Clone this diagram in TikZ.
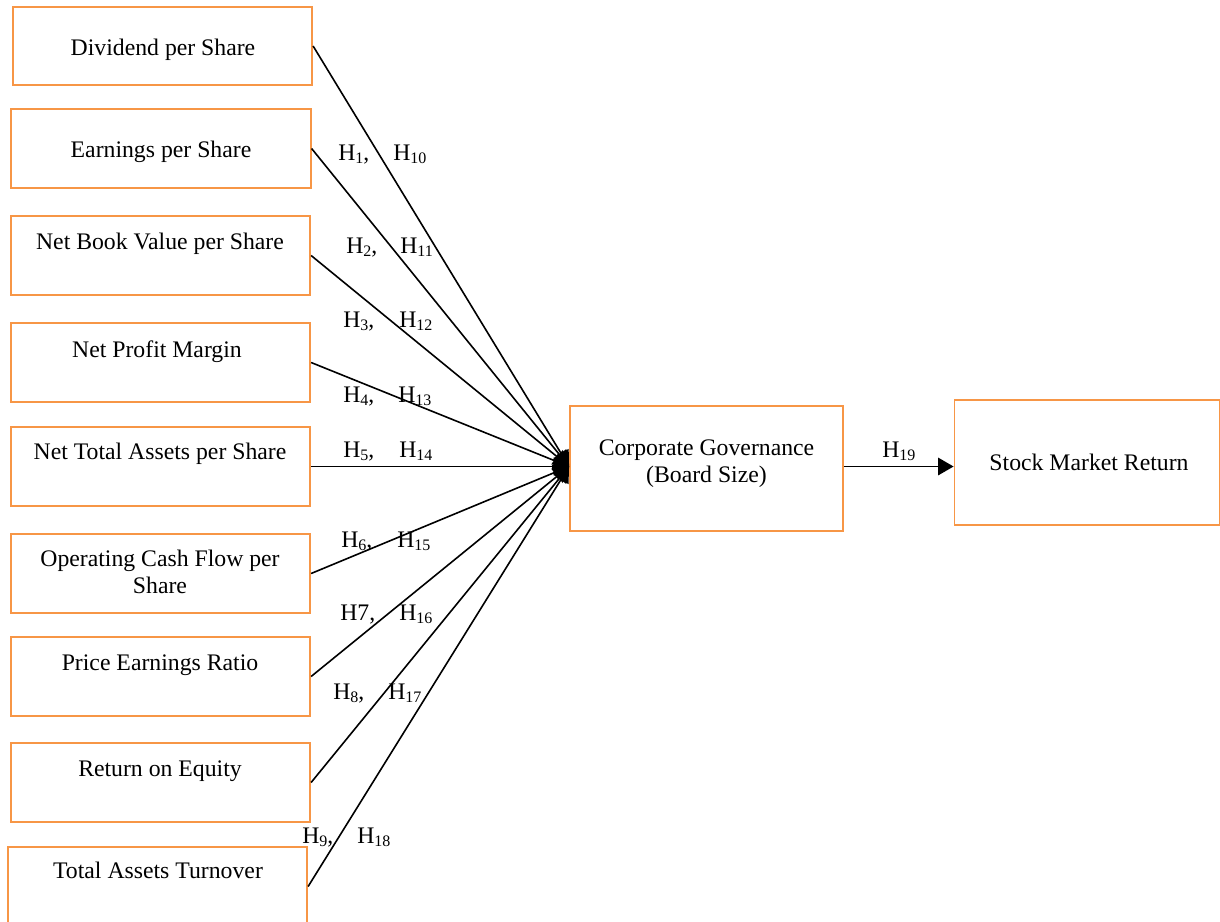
\documentclass[tikz,border=0pt]{standalone}
\usepackage{fontspec}
\setmainfont{Liberation Serif}
\usetikzlibrary{arrows.meta}
\definecolor{boxorange}{RGB}{247,150,70}
\newcommand{\Hsub}[1]{H\raisebox{-0.13em}{\fontsize{12}{12}\selectfont #1}}
\tikzset{
  box/.style={draw=boxorange, line width=1.4pt, rectangle, inner sep=0pt},
  lbox/.style={box, minimum width=224.5pt, minimum height=59pt},
  txt/.style={anchor=base, inner sep=0pt, align=center, font=\fontsize{17.8}{20.25}\selectfont},
  hl/.style={anchor=base west, inner sep=0pt, font=\fontsize{17.8}{20}\selectfont},
  arr/.style={line width=1.2pt, -{Triangle[length=11.5pt,width=13pt]}},
}
\begin{document}
\begin{tikzpicture}[x=0.75pt,y=-0.75pt]
\useasboundingbox (0,0) rectangle (1220,921);
% left boxes
\node[lbox] (b1) at (162.5,46) {};
\node[lbox] (b2) at (161,148.5) {};
\node[lbox] (b3) at (160.5,255.5) {};
\node[lbox] (b4) at (160.5,362.5) {};
\node[lbox] (b5) at (160.5,466.5) {};
\node[lbox] (b6) at (160.5,573.5) {};
\node[lbox] (b7) at (160.5,676.5) {};
\node[lbox] (b8) at (160.5,782.5) {};
\node[lbox] (b9) at (157.5,886.5) {};
% texts in left boxes
\node[txt] (t1) at (163,55) {Dividend per Share};
\node[txt] (t2) at (161,157) {Earnings per Share};
\node[txt] (t3) at (160,249) {Net Book Value per Share};
\node[txt] (t4) at (157,357) {Net Profit Margin};
\node[txt] (t5) at (160,459) {Net Total Assets per Share};
\node[txt, anchor=north] (t6) at (160,550) {Operating Cash Flow per\\Share};
\node[txt] (t7) at (160,670) {Price Earnings Ratio};
\node[txt] (t8) at (160,776) {Return on Equity};
\node[txt] (t9) at (158,878) {Total Assets Turnover};
% right boxes
\node[box, minimum width=204.75pt, minimum height=93.75pt] (corp) at (706.5,468.5) {};
\node[txt, anchor=north] (corpt) at (706.5,440) {Corporate Governance\\(Board Size)};
\node[box, minimum width=198.75pt, minimum height=93.75pt] (stock) at (1087,462.5) {};
\node[txt] (stockt) at (1089,470) {Stock Market Return};
% connectors
\coordinate (tip) at (corp.west |- b5.east);
\foreach \b in {b1,b2,b3,b4,b5,b6,b7,b8,b9}
  \draw[arr] (\b.east) -- (tip);
\coordinate (cout) at (corp.east |- b5.east);
\draw[arr] (cout) -- (cout -| stock.west);
% labels
\node[hl] (h1) at (338,160) {\Hsub{1},};
\node[hl] (h10) at (393,160) {\Hsub{10}};
\node[hl] (h2) at (346,253) {\Hsub{2},};
\node[hl] (h11) at (400,253) {\Hsub{11}};
\node[hl] (h3) at (343,327) {\Hsub{3},};
\node[hl] (h12) at (399,327) {\Hsub{12}};
\node[hl] (h4) at (343,402) {\Hsub{4},};
\node[hl] (h13) at (398,402) {\Hsub{13}};
\node[hl] (h5) at (343,457) {\Hsub{5},};
\node[hl] (h14) at (399,457) {\Hsub{14}};
\node[hl] (h6) at (341,547) {\Hsub{6},};
\node[hl] (h15) at (397,547) {\Hsub{15}};
\node[hl] (h7) at (340,620) {H7,};
\node[hl] (h16) at (399,620) {\Hsub{16}};
\node[hl] (h8) at (333,699) {\Hsub{8},};
\node[hl] (h17) at (388,699) {\Hsub{17}};
\node[hl] (h9) at (302,843) {\Hsub{9},};
\node[hl] (h18) at (357,843) {\Hsub{18}};
\node[hl] (h19) at (882,457) {\Hsub{19}};
\end{tikzpicture}
\end{document}
